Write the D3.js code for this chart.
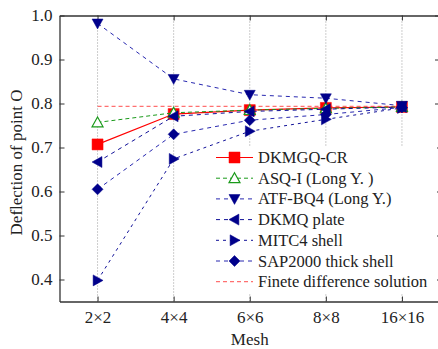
<!DOCTYPE html>
<html>
<head>
<meta charset="utf-8">
<script src="https://cdn.jsdelivr.net/npm/d3@7"></script>
<style>
  body { margin: 0; background: #fff; }
  svg text { font-family: "Liberation Serif", "DejaVu Serif", serif !important; fill: #222; }
</style>
</head>
<body>
<div id="chart"></div>
<script>
// Mesh categories and deflection values
const meshes = ['2×2', '4×4', '6×6', '8×8', '16×16'];
const dkmgqCR = [0.707, 0.776, 0.785, 0.790, 0.792];
const asqI = [0.757, 0.779, 0.785, 0.789, 0.792];
const atfBQ4 = [0.982, 0.856, 0.820, 0.812, 0.795];
const dkmqPlate = [0.667, 0.771, 0.782, 0.787, 0.792];
const mitc4 = [0.398, 0.674, 0.737, 0.764, 0.790];
const sap2000 = [0.605, 0.730, 0.762, 0.775, 0.791];
const finiteDiff = 0.7935;
const yTicks = [0.4, 0.5, 0.6, 0.7, 0.8, 0.9, 1.0];

const width = 438, height = 349;
const plotL = 59.5, plotR = 440, plotT = 15.5, plotB = 301.5;

const svg = d3.select('#chart').append('svg')
  .attr('width', width)
  .attr('height', height);

const x = d3.scalePoint().domain(meshes).range([plotL, plotR]).padding(0.5);
const y = d3.scaleLinear().domain([0.35, 1.0]).range([plotB, plotT]);

// Vertical dotted grid
svg.append('g').selectAll('line')
  .data(meshes)
  .enter().append('line')
  .attr('x1', d => x(d)).attr('x2', d => x(d))
  .attr('y1', plotT).attr('y2', plotB)
  .attr('stroke', '#9a9a9a')
  .attr('stroke-width', 1)
  .attr('stroke-dasharray', '1,2');

// Axes with inward ticks
const frame = '#333';
const styleText = g => g.selectAll('text')
  .style('font-family', '"Liberation Serif", serif')
  .style('font-size', '17px')
  .attr('fill', '#222');

svg.append('g')
  .attr('transform', `translate(0,${plotB})`)
  .call(d3.axisBottom(x).tickSizeInner(-5).tickSizeOuter(0).tickPadding(9))
  .call(g => g.select('.domain').attr('stroke', frame).attr('stroke-width', 1.3))
  .call(g => g.selectAll('.tick line').attr('stroke', frame))
  .call(styleText);

svg.append('g')
  .attr('transform', `translate(0,${plotT})`)
  .call(d3.axisTop(x).tickSizeInner(-5).tickSizeOuter(0).tickFormat(''))
  .call(g => g.select('.domain').attr('stroke', frame).attr('stroke-width', 1.3))
  .call(g => g.selectAll('.tick line').attr('stroke', frame));

svg.append('g')
  .attr('transform', `translate(${plotL},0)`)
  .call(d3.axisLeft(y).tickValues(yTicks).tickFormat(d3.format('.1f')).tickSizeInner(-5).tickSizeOuter(0).tickPadding(7))
  .call(g => g.select('.domain').attr('stroke', frame).attr('stroke-width', 1.3))
  .call(g => g.selectAll('.tick line').attr('stroke', frame))
  .call(styleText);

svg.append('g')
  .attr('transform', `translate(${plotR},0)`)
  .call(d3.axisRight(y).tickValues(yTicks).tickSizeInner(-5).tickSizeOuter(0).tickFormat(''))
  .call(g => g.select('.domain').attr('stroke', frame).attr('stroke-width', 1.3))
  .call(g => g.selectAll('.tick line').attr('stroke', frame));

// Axis titles
svg.append('text')
  .attr('x', (plotL + 438) / 2 + 1)
  .attr('y', 345)
  .attr('text-anchor', 'middle')
  .style('font-size', '17px')
  .text('Mesh');

svg.append('text')
  .attr('transform', `translate(22,${(plotT + plotB) / 2 + 4}) rotate(-90)`)
  .attr('text-anchor', 'middle')
  .style('font-size', '17px')
  .text('Deflection of point O');

// Marker shapes
const S = 5.5;
const shapes = {
  square: `M${-S},${-S}H${S}V${S}H${-S}Z`,
  triUp: `M0,${-S}L${S},${S * 0.8}L${-S},${S * 0.8}Z`,
  triDown: `M${-S},${-S * 0.8}L${S},${-S * 0.8}L0,${S}Z`,
  triLeft: `M${-S},0L${S * 0.8},${-S}L${S * 0.8},${S}Z`,
  triRight: `M${S},0L${-S * 0.8},${-S}L${-S * 0.8},${S}Z`,
  diamond: `M0,${-S}L${S},0L0,${S}L${-S},0Z`
};

const series = [
  { name: 'DKMGQ-CR', values: dkmgqCR, color: '#ff0000', dash: null, marker: 'square', fill: '#ff0000', sw: 1.2 },
  { name: 'ASQ-I (Long Y. )', values: asqI, color: '#1a9a1a', dash: '4,3', marker: 'triUp', fill: '#fff', sw: 1 },
  { name: 'ATF-BQ4 (Long Y.)', values: atfBQ4, color: '#2828b0', dash: '4,4', marker: 'triDown', fill: '#00008b', sw: 1 },
  { name: 'DKMQ plate', values: dkmqPlate, color: '#101098', dash: '4,4', marker: 'triLeft', fill: '#00008b', sw: 1 },
  { name: 'MITC4 shell', values: mitc4, color: '#101098', dash: '3,4', marker: 'triRight', fill: '#00008b', sw: 1 },
  { name: 'SAP2000 thick shell', values: sap2000, color: '#2828b0', dash: '4,4', marker: 'diamond', fill: '#00008b', sw: 1 }
];

// Finite difference reference line
svg.append('line')
  .attr('x1', x(meshes[0])).attr('x2', x(meshes[meshes.length - 1]))
  .attr('y1', y(finiteDiff)).attr('y2', y(finiteDiff))
  .attr('stroke', '#ff7070')
  .attr('stroke-width', 1.3)
  .attr('stroke-dasharray', '4,3');

const line = d3.line().x((d, i) => x(meshes[i])).y(d => y(d));

series.forEach(s => {
  svg.append('path')
    .datum(s.values)
    .attr('d', line)
    .attr('fill', 'none')
    .attr('stroke', s.color)
    .attr('stroke-width', s.sw)
    .attr('stroke-dasharray', s.dash);
  svg.append('g').selectAll('path')
    .data(s.values)
    .enter().append('path')
    .attr('d', shapes[s.marker])
    .attr('transform', (d, i) => `translate(${x(meshes[i])},${y(d)})`)
    .attr('fill', s.fill)
    .attr('stroke', s.marker === 'triUp' ? s.color : s.fill)
    .attr('stroke-width', s.marker === 'triUp' ? 1.2 : 0.5);
});

// Legend
const legend = svg.append('g');
legend.append('rect')
  .attr('x', 211).attr('y', 146)
  .attr('width', 226).attr('height', 148)
  .attr('fill', '#fff');

const legendItems = series.concat([{ name: 'Finete difference solution', color: '#ff7070', dash: '4,3', marker: null, sw: 1.3 }]);
const rowH = 20.7;
legendItems.forEach((s, i) => {
  const cy = 157.5 + i * rowH;
  legend.append('line')
    .attr('x1', 216).attr('x2', 253)
    .attr('y1', cy).attr('y2', cy)
    .attr('stroke', s.color)
    .attr('stroke-width', s.sw)
    .attr('stroke-dasharray', s.dash);
  if (s.marker) {
    legend.append('path')
      .attr('d', shapes[s.marker])
      .attr('transform', `translate(234.5,${cy})`)
      .attr('fill', s.fill)
      .attr('stroke', s.marker === 'triUp' ? s.color : s.fill)
      .attr('stroke-width', s.marker === 'triUp' ? 1.2 : 0.5);
  }
  legend.append('text')
    .attr('x', 258)
    .attr('y', cy + 5.5)
    .style('font-size', '16.5px')
    .text(s.name);
});
</script>
</body>
</html>
